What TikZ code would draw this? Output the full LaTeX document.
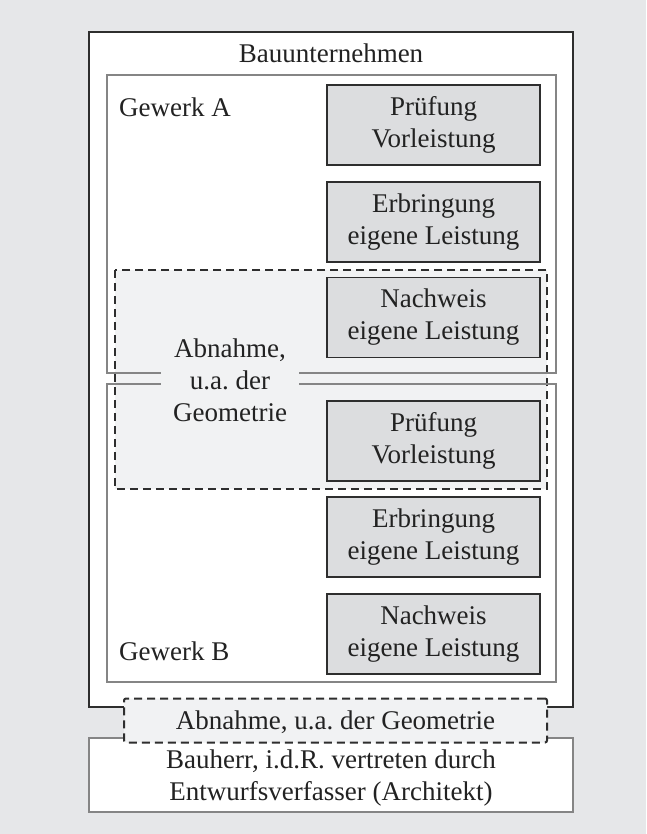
\documentclass[tikz,border=0pt]{standalone}
\usepackage{fontspec}
\setmainfont{Liberation Serif}
\frenchspacing

\definecolor{bggray}{HTML}{E6E7E9}
\definecolor{boxgray}{HTML}{DCDDDF}
\definecolor{dashgray}{HTML}{F1F2F3}
\definecolor{linegray}{HTML}{858585}
\definecolor{darkline}{HTML}{2E2E2E}
\definecolor{textcol}{HTML}{222222}

\begin{document}
\begin{tikzpicture}[x=1pt, y=-1pt,
    font=\fontsize{27}{32}\selectfont, text=textcol,
    task/.style={rectangle, draw=darkline, line width=1.6pt, fill=boxgray,
        minimum width=213pt, minimum height=80pt, align=center, inner sep=0pt},
    gewerk/.style={draw=linegray, line width=1.2pt},
    abnahme/.style={draw=darkline, line width=2pt, dash pattern=on 8pt off 5pt, fill=dashgray}]
    \useasboundingbox (0,0) rectangle (646,834);
    \fill[bggray] (0,0) rectangle (646,834);

    % Bauunternehmen
    \draw[draw=darkline, line width=1.6pt, fill=white] (89,32) rectangle (573,707);
    \node [anchor=base, inner sep=0pt] (bau) at (331,63) {Bauunternehmen};

    % Gewerke
    \fill[white] (107,75) rectangle (556,373);
    \fill[white] (107,384) rectangle (556,682);
    \draw[abnahme] (115,270) rectangle (547,489);
    \draw[gewerk] (107,75) rectangle (556,373);
    \draw[gewerk] (107,384) rectangle (556,682);
    \node [anchor=base west, inner sep=0pt] (gewA) at (119,117) {Gewerk A};
    \node [anchor=base west, inner sep=0pt] (gewB) at (119,660) {Gewerk B};
    \node [fill=dashgray, inner xsep=12pt, inner ysep=2pt, align=center] (abnM) at (230,380)
        {Abnahme,\\u.a. der\\Geometrie};

    % Schritte
    \node [task] (pA) at (433.5,125) {Prüfung\\Vorleistung};
    \node [task] (eA) at (433.5,222) {Erbringung\\eigene Leistung};
    \node [task] (nA) at (433.5,317.5) {Nachweis\\eigene Leistung};
    \node [task] (pB) at (433.5,441) {Prüfung\\Vorleistung};
    \node [task] (eB) at (433.5,537) {Erbringung\\eigene Leistung};
    \node [task] (nB) at (433.5,634) {Nachweis\\eigene Leistung};

    % Bauherr
    \draw[gewerk, fill=white] (89,738) rectangle (573,812);
    \node [align=center, inner sep=0pt] (herr) at (331,777.5)
        {Bauherr, i.d.R. vertreten durch\\Entwurfsverfasser (Architekt)};
    \node [abnahme, rounded corners=2pt, minimum width=423pt, minimum height=44pt, inner sep=0pt,
        text height=23pt, text depth=5pt] (abnU) at (335.5,720.5)
        {Abnahme, u.a. der Geometrie};
\end{tikzpicture}
\end{document}
